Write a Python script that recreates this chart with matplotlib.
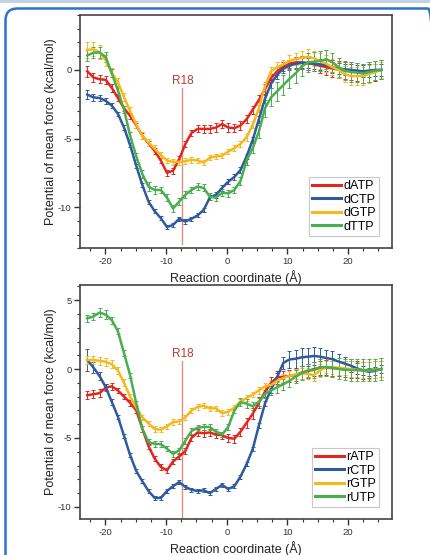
import numpy as np
import matplotlib
matplotlib.use("Agg")
import matplotlib.pyplot as plt
from matplotlib.patches import FancyBboxPatch, Rectangle
from matplotlib.lines import Line2D
from matplotlib.ticker import MultipleLocator

# =========================
# 1. DATA
# =========================

# reaction coordinate grid (Angstrom)
x = np.linspace(-23, 25.5, 49)

# --- deoxy NTPs (top panel) ---
d_labels = ["dATP", "dCTP", "dGTP", "dTTP"]

datp = [-0.1, -0.55, -0.68, -0.72, -1.3, -2.05, -2.8, -3.35, -4.05, -4.8,
        -5.35, -5.9, -6.6, -7.5, -7.35, -6.5, -5.4, -4.6, -4.3, -4.3,
        -4.3, -4.2, -3.95, -4.2, -4.25, -4.05, -3.6, -2.9, -2.2, -1.4,
        -0.6, -0.1, 0.25, 0.45, 0.55, 0.55, 0.5, 0.4, 0.3, 0.2,
        0.1, 0.02, -0.05, -0.1, -0.15, -0.25, -0.15, -0.08, 0.0]
dctp = [-1.8, -2.0, -2.05, -2.25, -2.6, -3.2, -4.2, -5.5, -7.0, -8.4,
        -9.6, -10.3, -10.8, -11.45, -11.3, -10.85, -11.05, -10.85, -10.6, -10.2,
        -9.3, -9.1, -8.6, -8.15, -7.8, -7.3, -6.3, -5.1, -3.6, -2.1,
        -1.0, -0.35, 0.1, 0.3, 0.45, 0.5, 0.5, 0.45, 0.4, 0.35,
        0.2, 0.1, 0.05, 0.0, -0.05, -0.1, -0.05, 0.0, 0.0]
dgtp = [1.45, 1.5, 1.3, 0.7, -0.2, -0.9, -2.0, -3.0, -4.0, -4.8,
        -5.3, -5.75, -6.2, -6.6, -6.7, -6.7, -6.65, -6.55, -6.6, -6.75,
        -6.4, -6.3, -6.25, -5.95, -5.7, -5.4, -4.9, -4.0, -2.8, -1.2,
        -0.1, 0.2, 0.4, 0.65, 0.8, 0.88, 0.95, 0.85, 0.65, 0.45,
        0.2, 0.0, -0.3, -0.45, -0.45, -0.45, -0.3, -0.15, 0.0]
dttp = [1.05, 1.25, 1.27, 0.95, -0.25, -1.5, -2.9, -4.8, -6.3, -7.6,
        -8.5, -8.75, -8.75, -9.3, -10.1, -9.6, -9.1, -8.75, -8.5, -8.6,
        -9.25, -9.3, -8.95, -9.0, -8.75, -8.1, -6.6, -5.7, -4.5, -2.8,
        -2.0, -1.55, -1.1, -0.65, -0.25, 0.25, 0.55, 0.6, 0.65, 0.78,
        0.55, 0.2, -0.05, -0.15, -0.2, -0.25, -0.15, -0.05, 0.0]

datp_err = [0.4, 0.35, 0.3, 0.3, 0.3, 0.2, 0.2, 0.2, 0.2, 0.2,
            0.2, 0.2, 0.2, 0.2, 0.2, 0.2, 0.2, 0.2, 0.25, 0.3,
            0.3, 0.3, 0.3, 0.3, 0.3, 0.3, 0.3, 0.3, 0.35, 0.35,
            0.3, 0.3, 0.3, 0.3, 0.4, 0.45, 0.5, 0.5, 0.5, 0.55,
            0.6, 0.6, 0.6, 0.65, 0.65, 0.7, 0.7, 0.7, 0.7]
dctp_err = [0.3, 0.25, 0.2, 0.2, 0.2, 0.15, 0.15, 0.15, 0.15, 0.15,
            0.15, 0.15, 0.15, 0.15, 0.15, 0.15, 0.15, 0.15, 0.15, 0.15,
            0.2, 0.2, 0.2, 0.2, 0.2, 0.2, 0.2, 0.2, 0.25, 0.3,
            0.3, 0.3, 0.3, 0.3, 0.35, 0.35, 0.35, 0.4, 0.4, 0.4,
            0.4, 0.4, 0.4, 0.4, 0.4, 0.45, 0.45, 0.45, 0.45]
dgtp_err = [0.55, 0.5, 0.5, 0.4, 0.35, 0.3, 0.3, 0.3, 0.25, 0.25,
            0.25, 0.25, 0.2, 0.2, 0.2, 0.2, 0.2, 0.2, 0.2, 0.2,
            0.2, 0.2, 0.2, 0.2, 0.2, 0.25, 0.25, 0.25, 0.25, 0.3,
            0.3, 0.35, 0.35, 0.4, 0.45, 0.5, 0.55, 0.55, 0.55, 0.6,
            0.6, 0.6, 0.6, 0.65, 0.65, 0.65, 0.65, 0.6, 0.6]
dttp_err = [0.4, 0.4, 0.4, 0.35, 0.3, 0.25, 0.25, 0.25, 0.25, 0.3,
            0.3, 0.3, 0.25, 0.25, 0.25, 0.25, 0.25, 0.25, 0.25, 0.25,
            0.25, 0.25, 0.25, 0.25, 0.25, 0.3, 0.3, 0.35, 0.45, 0.6,
            0.65, 0.7, 0.7, 0.7, 0.7, 0.7, 0.7, 0.7, 0.7, 0.7,
            0.7, 0.7, 0.7, 0.7, 0.7, 0.7, 0.7, 0.7, 0.7]

# --- ribo NTPs (bottom panel) ---
r_labels = ["rATP", "rCTP", "rGTP", "rUTP"]

ratp = [-1.9, -1.82, -1.75, -1.35, -1.25, -1.55, -2.0, -2.45, -3.0, -4.35,
        -5.6, -6.5, -7.1, -7.35, -6.7, -6.34, -5.95, -5.0, -4.6, -4.65,
        -4.6, -4.75, -4.8, -5.0, -5.05, -4.55, -3.9, -3.25, -2.45, -1.65,
        -1.0, -0.6, -0.56, -0.5, -0.42, -0.25, -0.15, 0.0, 0.1, 0.1,
        0.07, 0.03, 0.0, -0.03, -0.05, -0.1, -0.08, -0.05, 0.0]
rctp = [0.66, 0.12, -0.5, -1.3, -2.38, -3.45, -4.85, -6.25, -7.4, -8.15,
        -8.85, -9.35, -9.35, -8.85, -8.5, -8.2, -8.55, -8.75, -8.85, -8.8,
        -9.0, -8.7, -8.4, -8.7, -8.5, -7.8, -6.9, -5.8, -4.1, -2.5,
        -1.45, -0.56, 0.45, 0.7, 0.75, 0.85, 0.9, 0.95, 0.9, 0.8,
        0.72, 0.55, 0.4, 0.25, 0.05, -0.1, -0.2, -0.12, 0.0]
rgtp = [0.66, 0.66, 0.6, 0.53, 0.35, -0.1, -1.0, -2.0, -2.8, -3.5,
        -3.95, -4.35, -4.4, -4.15, -3.84, -3.8, -3.5, -3.0, -2.75, -2.65,
        -2.85, -2.85, -3.2, -3.1, -2.8, -2.35, -2.1, -1.85, -1.55, -1.25,
        -1.15, -0.85, -0.65, -0.5, -0.38, -0.31, -0.35, -0.44, -0.1, 0.15,
        0.12, 0.1, 0.05, 0.0, -0.05, -0.08, -0.1, -0.05, 0.0]
rutp = [3.69, 3.81, 4.1, 3.95, 3.55, 2.75, 1.15, -0.45, -2.5, -4.35,
        -5.3, -5.42, -5.45, -5.78, -6.15, -5.9, -5.2, -4.5, -4.25, -4.2,
        -4.2, -4.55, -4.75, -4.2, -3.0, -2.4, -2.5, -2.7, -2.38, -1.8,
        -1.55, -1.32, -1.1, -0.85, -0.55, -0.3, -0.1, -0.07, 0.12, 0.15,
        0.1, 0.02, -0.05, -0.07, -0.07, -0.07, -0.07, -0.05, 0.0]

ratp_err = [0.3, 0.3, 0.3, 0.25, 0.25, 0.2, 0.2, 0.2, 0.2, 0.2,
            0.2, 0.2, 0.2, 0.2, 0.2, 0.2, 0.2, 0.25, 0.25, 0.25,
            0.25, 0.25, 0.25, 0.3, 0.3, 0.3, 0.35, 0.4, 0.4, 0.4,
            0.4, 0.45, 0.45, 0.45, 0.45, 0.5, 0.5, 0.5, 0.5, 0.55,
            0.55, 0.55, 0.55, 0.6, 0.6, 0.6, 0.6, 0.6, 0.6]
rctp_err = [0.8, 0.4, 0.3, 0.25, 0.2, 0.15, 0.15, 0.15, 0.15, 0.15,
            0.15, 0.15, 0.15, 0.15, 0.15, 0.15, 0.15, 0.15, 0.15, 0.15,
            0.15, 0.15, 0.15, 0.15, 0.15, 0.15, 0.15, 0.15, 0.2, 0.2,
            0.25, 0.3, 0.45, 0.6, 0.65, 0.65, 0.65, 0.65, 0.65, 0.6,
            0.6, 0.55, 0.5, 0.45, 0.4, 0.3, 0.3, 0.3, 0.3]
rgtp_err = [0.3, 0.3, 0.3, 0.3, 0.3, 0.25, 0.25, 0.2, 0.2, 0.2,
            0.2, 0.2, 0.2, 0.2, 0.2, 0.2, 0.2, 0.2, 0.2, 0.2,
            0.2, 0.2, 0.2, 0.2, 0.2, 0.2, 0.2, 0.2, 0.25, 0.25,
            0.3, 0.3, 0.3, 0.35, 0.35, 0.4, 0.4, 0.45, 0.45, 0.45,
            0.5, 0.5, 0.5, 0.55, 0.55, 0.6, 0.6, 0.6, 0.6]
rutp_err = [0.25, 0.25, 0.3, 0.3, 0.25, 0.2, 0.2, 0.2, 0.2, 0.2,
            0.2, 0.2, 0.2, 0.2, 0.2, 0.2, 0.2, 0.2, 0.2, 0.2,
            0.2, 0.2, 0.2, 0.2, 0.2, 0.3, 0.3, 0.3, 0.3, 0.3,
            0.35, 0.4, 0.4, 0.45, 0.45, 0.5, 0.5, 0.55, 0.6, 0.65,
            0.7, 0.75, 0.75, 0.8, 0.8, 0.8, 0.8, 0.8, 0.8]

# R18 marker position and extent (data units)
r18_x = -7.3
r18_top = [-1.3, 0.55]
r18_bottom = [-12.7, -10.7]

colors = ["#e2271f", "#2f5b9e", "#f7b81d", "#48ae50"]

# =========================
# 2. FIGURE
# =========================

plt.rcParams['font.family'] = ['Liberation Sans', 'DejaVu Sans']
plt.rcParams['axes.unicode_minus'] = False

fig = plt.figure(figsize=(4.3, 5.55), dpi=100)

# background layer in pixel units: blue rounded frame + strip of the box above
bg = fig.add_axes([0, 0, 1, 1], zorder=-5)
bg.set_xlim(0, 430)
bg.set_ylim(0, 555)
bg.axis("off")
bg.add_patch(FancyBboxPatch((5.5, -60), 434.5, 606.5,
                            boxstyle="round,pad=0,rounding_size=12",
                            fill=False, edgecolor="#2f72c8", linewidth=1.8,
                            clip_on=True))
bg.add_patch(Rectangle((0, 552), 430, 3, facecolor="#c3d1e6", edgecolor="none"))

ax_top = fig.add_axes([0.186, 0.5526, 0.725, 0.4204])
ax_bot = fig.add_axes([0.186, 0.0643, 0.725, 0.4222])

panels = [
    (ax_top, d_labels, [datp, dctp, dgtp, dttp],
     [datp_err, dctp_err, dgtp_err, dttp_err], (-13.0, 4.0), r18_top[0], r18_bottom[0]),
    (ax_bot, r_labels, [ratp, rctp, rgtp, rutp],
     [ratp_err, rctp_err, rgtp_err, rutp_err], (-10.9, 6.1), r18_top[1], r18_bottom[1]),
]

for ax, labels, series, errs, ylim, ytop, ybot in panels:
    handles = []
    for lab, y, e, c in zip(labels, series, errs, colors):
        ax.errorbar(x, y, yerr=e, color=c, lw=1.8, elinewidth=0.7,
                    capsize=1.3, capthick=0.7)
        handles.append(Line2D([], [], color=c, lw=2.2, label=lab))

    # R18 reference line
    ax.plot([r18_x, r18_x], [ytop, ybot], color="#d9907f", lw=1.0, zorder=1)
    ax.text(r18_x, ytop + 0.3, "R18", color="#c0392b", fontsize=8.5,
            ha="center", va="baseline")

    ax.set_xlim(-24.2, 27.2)
    ax.set_ylim(*ylim)
    ax.xaxis.set_major_locator(MultipleLocator(10))
    ax.xaxis.set_minor_locator(MultipleLocator(2.5))
    ax.yaxis.set_major_locator(MultipleLocator(5))
    ax.yaxis.set_minor_locator(MultipleLocator(1))
    ax.tick_params(which="major", direction="out", length=4, width=1.0,
                   labelsize=6.8, colors="#333333", pad=2)
    ax.tick_params(which="minor", direction="out", length=2, width=0.8,
                   colors="#333333")
    for sp in ax.spines.values():
        sp.set_color("#444444")
        sp.set_linewidth(1.2)

    ax.set_xlabel("Reaction coordinate (Å)", fontsize=9, color="#222222", labelpad=3)
    ax.set_ylabel("Potential of mean force (kcal/mol)", fontsize=9, color="#222222",
                  labelpad=0.5)

    leg = ax.legend(handles=handles, loc="lower right", fontsize=9, frameon=True,
                    fancybox=False, handlelength=2.3, handletextpad=0.2,
                    borderpad=0.25, labelspacing=0.12, borderaxespad=1.0)
    leg.get_frame().set_edgecolor("#bbbbbb")
    leg.get_frame().set_linewidth(0.8)

fig.savefig("out.png", dpi=100)
